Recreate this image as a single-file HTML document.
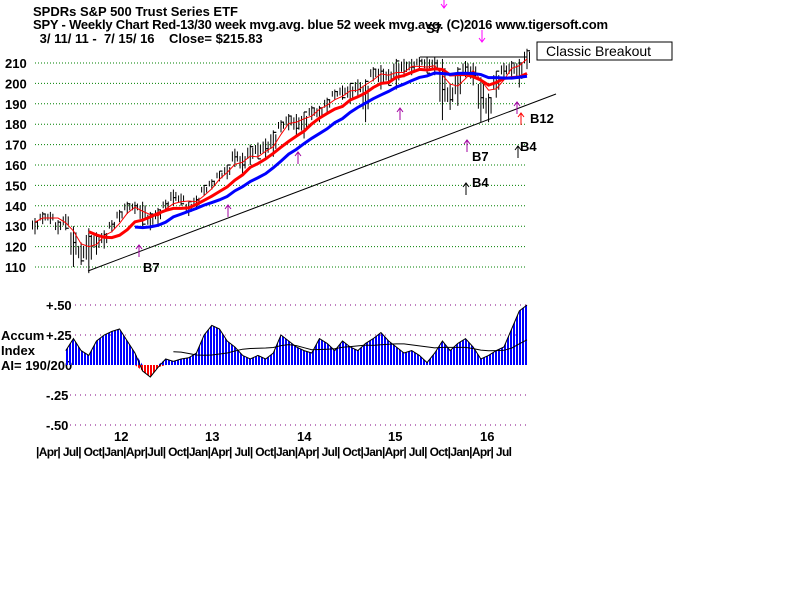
<!DOCTYPE html>
<html><head><meta charset="utf-8"><style>
body{margin:0;background:#fff;}
svg{display:block;font-family:"Liberation Sans",Arial,sans-serif;}
</style></head><body>
<svg width="800" height="600" viewBox="0 0 800 600" id="chart">
<defs>
<pattern id="bstripe" width="3" height="10" patternUnits="userSpaceOnUse"><rect width="2" height="10" fill="#0000ff"/></pattern>
<pattern id="rstripe" width="3" height="10" patternUnits="userSpaceOnUse"><rect width="2" height="10" fill="#ff0000"/></pattern>
</defs>
<g font-size="13" font-weight="bold" fill="#000">
<text x="33" y="16">SPDRs S&amp;P 500 Trust Series ETF</text>
<text x="33" y="29" textLength="575">SPY  - Weekly Chart  Red-13/30 week mvg.avg.  blue 52 week mvg.avg.  (C)2016 www.tigersoft.com</text>
<text x="36" y="43" xml:space="preserve"> 3/ 11/ 11 -  7/ 15/ 16    Close= $215.83</text>
</g>
<g id="grid"></g>
<g id="price"></g>
<g id="annot" font-size="13" font-weight="bold"></g>
<g id="accum"></g>
<g id="xaxis" font-size="13" font-weight="bold"></g>
</svg>
<script>
const months = ["Mar11","Apr11","May11","Jun11","Jul11","Aug11","Sep11","Oct11","Nov11","Dec11","Jan12","Feb12","Mar12","Apr12","May12","Jun12","Jul12","Aug12","Sep12","Oct12","Nov12","Dec12","Jan13","Feb13","Mar13","Apr13","May13","Jun13","Jul13","Aug13","Sep13","Oct13","Nov13","Dec13","Jan14","Feb14","Mar14","Apr14","May14","Jun14","Jul14","Aug14","Sep14","Oct14","Nov14","Dec14","Jan15","Feb15","Mar15","Apr15","May15","Jun15","Jul15","Aug15","Sep15","Oct15","Nov15","Dec15","Jan16","Feb16","Mar16","Apr16","May16","Jun16","Jul16"];
const closes = [132,136,134,132,129,122,113,125,125,126,131,137,141,140,131,136,138,141,144,141,142,143,150,152,157,160,164,160,169,163,168,176,181,184,178,186,188,188,192,196,193,200,197,201,207,206,199,211,206,208,211,205,210,197,192,207,208,204,193,193,206,206,210,210,216];
const highs = [134,137,137,133,136,130,122,129,127,128,133,138,142,142,142,137,139,143,148,146,142,145,150,153,157,160,168,166,170,171,173,177,182,185,185,186,189,189,193,197,199,200,202,202,208,209,207,212,212,212,213,213,213,212,200,208,211,210,203,195,206,210,211,212,217];
const lows = [126,131,131,126,128,110,111,107,116,119,127,132,136,136,130,128,131,137,140,140,135,138,145,148,152,153,159,155,160,163,163,164,176,177,174,173,182,181,186,192,192,190,193,181,201,197,199,197,203,204,207,205,204,182,187,189,203,199,181,181,193,202,202,198,207];
const accum = [0.03,0.05,0.06,0.05,0.12,0.22,0.12,0.08,0.2,0.25,0.28,0.3,0.2,0.1,-0.05,-0.1,-0.02,0.05,0.03,0.05,0.06,0.1,0.25,0.33,0.3,0.2,0.15,0.08,0.05,0.08,0.05,0.1,0.25,0.2,0.15,0.12,0.1,0.22,0.18,0.12,0.2,0.15,0.12,0.18,0.22,0.27,0.2,0.15,0.1,0.12,0.08,0.02,0.1,0.2,0.12,0.18,0.22,0.15,0.05,0.08,0.12,0.15,0.3,0.45,0.5];
const priceTicks = [210,200,190,180,170,160,150,140,130,120,110];
const accumTicks = [0.5,0.25,-0.25,-0.5];
const accumTickLabels = ["+.50","+.25","-.25","-.50"];
const yearLabels = ["12","13","14","15","16"];
const monthAxisLabels = ["|Apr","| Jul","| Oct","|Jan","|Apr","|Jul","| Oct","|Jan","|Apr","| Jul","| Oct","|Jan","|Apr","| Jul","| Oct","|Jan","|Apr","| Jul","| Oct","|Jan","|Apr","| Jul"];

const NS="http://www.w3.org/2000/svg";
const X0=35,X1=527;
const x=i=>X0+i*(X1-X0)/(months.length-1);
const py=p=>63+(210-p)*2.04;
const ay=v=>365-v*120;
function mk(tag,attrs,parent,text){const e=document.createElementNS(NS,tag);for(const k in attrs)e.setAttribute(k,attrs[k]);if(text!==undefined)e.textContent=text;parent.appendChild(e);return e;}
const grid=document.getElementById('grid'),price=document.getElementById('price'),annot=document.getElementById('annot'),acc=document.getElementById('accum'),xa=document.getElementById('xaxis');

priceTicks.forEach(t=>{
 const l=mk('line',{x1:X0,x2:X1,y1:py(t),y2:py(t),stroke:'#008000','stroke-dasharray':'1,2'},grid);
 
 
 const tx=mk('text',{x:5,y:py(t)+5,'font-size':13,'font-weight':'bold'},grid,String(t));
 
 
});

closes.forEach((c,i)=>{
 for(let k=-1;k<=1;k++){
  const b=mk('line',{x1:x(i)+k*2.5,x2:x(i)+k*2.5,y1:py(highs[i]-(k===0?0:(highs[i]-lows[i])*0.15)),y2:py(lows[i]+(k===0?0:(highs[i]-lows[i])*0.3)),stroke:'#000','stroke-width':1},price);
  
  
 }
 const t=mk('line',{x1:x(i),x2:x(i)+3,y1:py(c),y2:py(c),stroke:'#000','stroke-width':1.2},price);
 
 
});
function ma(n){return closes.map((_,i)=>{const s=closes.slice(Math.max(0,i-n+1),i+1);return s.reduce((a,b)=>a+b,0)/s.length;});}
function line(vals,yf,attrs,name,start){const pts=vals.map((v,i)=>x(i)+','+yf(v)).slice(start||0).join(' ');const p=mk('polyline',Object.assign({points:pts,fill:'none'},attrs),price);return p;}
line(ma(3),py,{stroke:'#ff0000','stroke-width':1},'ma-13-week');
line(ma(7),py,{stroke:'#ff0000','stroke-width':3},'ma-30-week',7);
line(ma(12),py,{stroke:'#0000ff','stroke-width':3},'ma-52-week',13);

const tl=mk('line',{x1:88,y1:271,x2:556,y2:94,stroke:'#000'},annot);


const hl=mk('line',{x1:420,y1:57,x2:527,y2:57,stroke:'#000'},annot);


const box=mk('rect',{x:537,y:42,width:135,height:18,fill:'#fff',stroke:'#000'},annot);


const bt=mk('text',{x:546,y:56,'font-weight':'normal','font-size':14},annot,'Classic Breakout');


[["B7",143,272],["B7",472,161],["B4",472,187],["B12",530,123],["B4",520,151],["S7",426,33]].forEach(a=>{
 const t=mk('text',{x:a[1],y:a[2]},annot,a[0]);
 
 
});
[[139,245,'#a000a0',-1],[228,205,'#a000a0',-1],[298,152,'#a000a0',-1],[400,108,'#a000a0',-1],[467,140,'#a000a0',-1],[517,102,'#a000a0',-1],[521,113,'#ff0000',-1],[466,183,'#000',-1],[518,146,'#000',-1],[444,8,'#ff00ff',1],[482,42,'#ff00ff',1]].forEach(a=>{
 const [ax,ayy,col,dir]=a;
 const g=mk('path',{d:`M${ax},${ayy} l0,${-dir*12} M${ax-3},${ayy-dir*4} L${ax},${ayy} L${ax+3},${ayy-dir*4}`,stroke:col,fill:'none'},annot);
 
 
});

accumTicks.forEach((t,i)=>{
 const l=mk('line',{x1:70,x2:X1,y1:ay(t),y2:ay(t),stroke:'#800080','stroke-dasharray':'1,4'},acc);
 
 
 const tx=mk('text',{x:46,y:ay(t)+5,'font-size':13,'font-weight':'bold'},acc,accumTickLabels[i]);
 
 
});
[["Accum",340],["Index",355],["AI= 190/200",370]].forEach(a=>{
 const t=mk('text',{x:1,y:a[1],'font-size':13,'font-weight':'bold'},acc,a[0]);
 
 
});
const S=4;
const pos=accum.map(v=>Math.max(v,0)),neg=accum.map(v=>Math.min(v,0));
function area(vals,fill,name){let d=`M${x(S)},${ay(0)} `+vals.map((v,i)=>`L${x(i)},${ay(v)}`).slice(S).join(' ')+` L${x(vals.length-1)},${ay(0)} Z`;const p=mk('path',{d:d,fill:fill},acc);}
area(pos,'url(#bstripe)','accum-positive-bars');
area(neg,'url(#rstripe)','accum-negative-bars');
const ao=mk('polyline',{points:accum.map((v,i)=>x(i)+','+ay(v)).slice(S).join(' '),fill:'none',stroke:'#000'},acc);


const am=accum.map((_,i)=>{const s=accum.slice(Math.max(0,i-11),i+1);return s.reduce((a,b)=>a+b,0)/s.length;});
const aml=mk('polyline',{points:am.map((v,i)=>x(i)+','+ay(v)).slice(18).join(' '),fill:'none',stroke:'#000'},acc);



const yx=[122,213,305,396,488];
yearLabels.forEach((y,i)=>{const t=mk('text',{x:yx[i]-8,y:441},xa,y);});
const mt=mk('text',{x:36,y:456,'font-size':12,'font-weight':'bold',textLength:476,'xml:space':'preserve'},xa,monthAxisLabels.join(''));


</script>
</body></html>
